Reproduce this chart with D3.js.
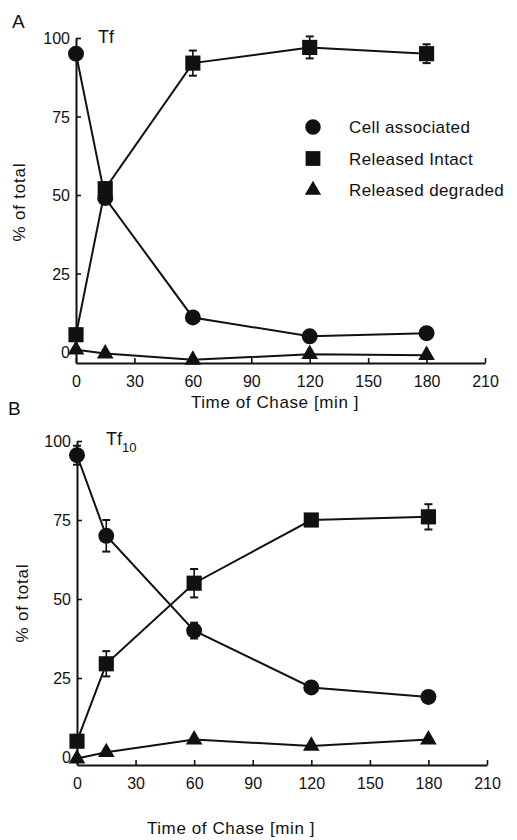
<!DOCTYPE html>
<html>
<head>
<meta charset="utf-8">
<script src="https://cdn.jsdelivr.net/npm/d3@7"></script>
<style>
  body { margin: 0; background: #fff; }
  svg { display: block; }
  text { font-family: "Liberation Sans", Arial, sans-serif; fill: #111; }
</style>
</head>
<body>
<svg id="chart" width="517" height="840"></svg>
<script>
// chase times (min)
var times = [0, 15, 60, 120, 180];
var xTicks = [0, 30, 60, 90, 120, 150, 180, 210];
var yTicks = [0, 25, 50, 75, 100];

// panel A - Tf
var cellA = [95, 49, 11, 5, 6];
var cellErrA = [0, 0, 0, 0, 0];
var intactA = [5.5, 52, 92, 97, 95];
var intactErrA = [0, 2, 4, 3.5, 3];
var degradedA = [0.7, -0.5, -2.5, -0.7, -1];

// panel B - Tf10
var cellB = [95.5, 70, 40, 22, 19];
var cellErrB = [3, 5, 2.5, 0, 0];
var intactB = [5, 29.5, 55, 75, 76];
var intactErrB = [0, 4, 4.5, 0, 4];
var degradedB = [-0.5, 1.5, 5.5, 3.5, 5.5];

var legendLabels = ["Cell associated", "Released Intact", "Released degraded"];
var shapes = [d3.symbolCircle, d3.symbolSquare, d3.symbolTriangle];
var shapeSizes = [200, 230, 120];

var svg = d3.select("#chart");

function drawPanel(p) {
    var g = svg.append("g");

    var x = d3.scaleLinear().domain([0, 210]).range([p.x0, p.x1]);
    var y = d3.scaleLinear().domain([0, 100]).range([p.zero, p.top]);
    // extend the y domain down to where the x axis sits
    y.domain([y.invert(p.axisY), 100]).range([p.axisY, p.top]);

    var xAxis = g.append("g")
        .attr("transform", "translate(0," + p.axisY + ")")
        .call(d3.axisBottom(x).tickValues(xTicks).tickSizeInner(-5).tickSizeOuter(0).tickPadding(13));
    var yAxis = g.append("g")
        .attr("transform", "translate(" + p.x0 + ",0)")
        .call(d3.axisLeft(y).tickValues(yTicks).tickSizeInner(-5).tickSizeOuter(0).tickPadding(6));

    [xAxis, yAxis].forEach(function(a) {
        a.select(".domain").attr("stroke", "#111").attr("stroke-width", 2);
        a.selectAll(".tick line").attr("stroke", "#111").attr("stroke-width", 1.6);
        a.selectAll(".tick text").style("font-size", "16px").attr("fill", "#111")
            .style("font-family", "'Liberation Sans', Arial, sans-serif");
    });
    yAxis.selectAll(".tick text").attr("dy", "0.36em");

    g.append("text")
        .attr("x", p.titleX).attr("y", p.titleY)
        .attr("text-anchor", "middle")
        .style("font-size", "17px").style("letter-spacing", "0.6px")
        .text("Time of Chase [min ]");

    g.append("text")
        .attr("transform", "translate(" + p.ylabX + "," + p.ylabY + ") rotate(-90)")
        .attr("text-anchor", "middle")
        .style("font-size", "17px").style("letter-spacing", "0.8px")
        .text("% of total");

    g.append("text")
        .attr("x", p.letterX).attr("y", p.letterY)
        .style("font-size", "19px")
        .text(p.letter);

    var name = g.append("text")
        .attr("x", p.nameX).attr("y", p.nameY)
        .style("font-size", "18px");
    name.append("tspan").text("Tf");
    if (p.sub) {
        name.append("tspan").attr("dy", 7).style("font-size", "13px").text(p.sub);
    }

    var line = d3.line()
        .x(function(d) { return x(d[0]); })
        .y(function(d) { return y(d[1]); });

    p.series.forEach(function(s, si) {
        var pts = times.map(function(t, i) { return [t, s.values[i], s.errs ? s.errs[i] : 0]; });

        g.append("path")
            .datum(pts)
            .attr("d", line)
            .attr("fill", "none")
            .attr("stroke", "#111")
            .attr("stroke-width", 2);

        var eb = g.selectAll(".err" + si)
            .data(pts.filter(function(d) { return d[2] > 0; }))
            .enter().append("g");
        eb.append("line")
            .attr("x1", function(d) { return x(d[0]); })
            .attr("x2", function(d) { return x(d[0]); })
            .attr("y1", function(d) { return y(d[1] - d[2]); })
            .attr("y2", function(d) { return y(d[1] + d[2]); })
            .attr("stroke", "#111").attr("stroke-width", 1.6);
        [-1, 1].forEach(function(sign) {
            eb.append("line")
                .attr("x1", function(d) { return x(d[0]) - 4; })
                .attr("x2", function(d) { return x(d[0]) + 4; })
                .attr("y1", function(d) { return y(d[1] + sign * d[2]); })
                .attr("y2", function(d) { return y(d[1] + sign * d[2]); })
                .attr("stroke", "#111").attr("stroke-width", 2);
        });

        g.selectAll(".mk" + si)
            .data(pts)
            .enter().append("path")
            .attr("transform", function(d) { return "translate(" + x(d[0]) + "," + y(d[1]) + ")"; })
            .attr("d", d3.symbol().type(shapes[si]).size(shapeSizes[si]))
            .attr("fill", "#111");
    });

    if (p.legend) {
        var leg = g.append("g").attr("transform", "translate(" + p.legend[0] + "," + p.legend[1] + ")");
        legendLabels.forEach(function(lab, i) {
            leg.append("path")
                .attr("transform", "translate(0," + (i * 31.5) + ")")
                .attr("d", d3.symbol().type(shapes[i]).size(shapeSizes[i] * 0.95))
                .attr("fill", "#111");
            leg.append("text")
                .attr("x", 36).attr("y", i * 31.5 + 6)
                .style("font-size", "17px").style("letter-spacing", "0.4px")
                .text(lab);
        });
    }
}

drawPanel({
    x0: 76, x1: 485, top: 38, zero: 352, axisY: 363,
    titleX: 275, titleY: 408, ylabX: 25, ylabY: 202,
    letter: "A", letterX: 12, letterY: 28,
    nameX: 98, nameY: 43, sub: null,
    legend: [313, 127],
    series: [
        { values: cellA, errs: cellErrA },
        { values: intactA, errs: intactErrA },
        { values: degradedA, errs: null }
    ]
});

drawPanel({
    x0: 77, x1: 487, top: 441, zero: 757, axisY: 765,
    titleX: 231, titleY: 834, ylabX: 28, ylabY: 603,
    letter: "B", letterX: 8, letterY: 415,
    nameX: 106, nameY: 445, sub: "10",
    legend: null,
    series: [
        { values: cellB, errs: cellErrB },
        { values: intactB, errs: intactErrB },
        { values: degradedB, errs: null }
    ]
});
</script>
</body>
</html>
